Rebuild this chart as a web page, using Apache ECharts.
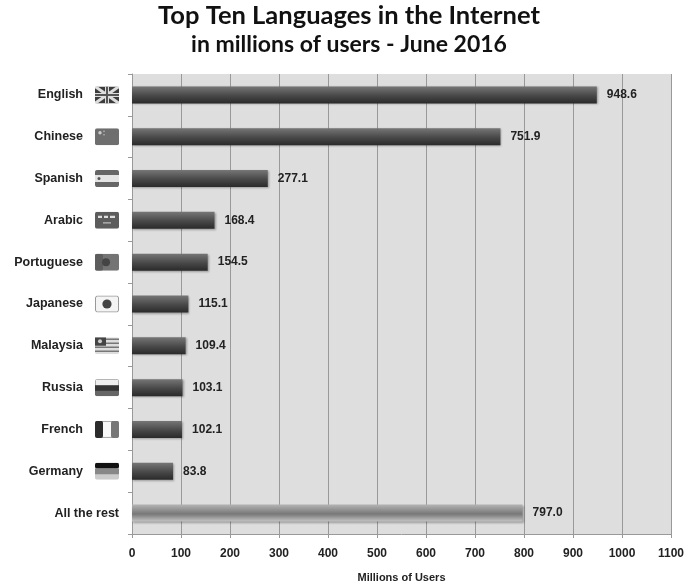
<!DOCTYPE html>
<html><head><meta charset="utf-8">
<style>html,body{margin:0;padding:0;background:#fff}#c{width:685px;height:587px}</style>
<script src="https://cdn.jsdelivr.net/npm/echarts@6/dist/echarts.min.js"></script>
</head><body><div id="c"></div>
<script>
const categories=["English","Chinese","Spanish","Arabic","Portuguese","Japanese","Malaysia","Russia","French","Germany","All the rest"];
const users=[948.6,751.9,277.1,168.4,154.5,115.1,109.4,103.1,102.1,83.8,797.0];
const valueLabels=["948.6","751.9","277.1","168.4","154.5","115.1","109.4","103.1","102.1","83.8","797.0"];
const flagSvgs=[
'<rect width="24" height="17" rx="2" fill="#3c3c3c"/><path d="M0 0L24 17M24 0L0 17" stroke="#ddd" stroke-width="3"/><path d="M12 0V17M0 8.5H24" stroke="#ddd" stroke-width="4"/><path d="M12 0V17M0 8.5H24" stroke="#555" stroke-width="2"/>',
'<rect width="24" height="17" rx="2" fill="#6e6e6e"/><circle cx="5" cy="4.5" r="1.7" fill="#ccc"/><circle cx="9" cy="3" r=".8" fill="#bbb"/><circle cx="9" cy="6.5" r=".8" fill="#bbb"/>',
'<rect width="24" height="17" rx="2" fill="#666"/><rect y="5" width="24" height="7" fill="#e4e4e4"/><circle cx="4" cy="8.5" r="1.5" fill="#555"/>',
'<rect width="24" height="17" rx="2" fill="#5c5c5c"/><path d="M3 5h4M9 5h4M15 5h5" stroke="#ddd" stroke-width="2.4"/><path d="M8 11h8" stroke="#bbb" stroke-width="1.4"/>',
'<rect width="24" height="17" rx="2" fill="#747474"/><rect width="8" height="17" rx="2" fill="#5d5d5d"/><circle cx="11" cy="8.5" r="4" fill="#444"/>',
'<rect x=".5" y=".5" width="23" height="16" rx="2" fill="#f4f4f4" stroke="#999"/><circle cx="12" cy="8.5" r="4.6" fill="#444"/>',
'<rect width="24" height="17" rx="2" fill="#ddd"/><path d="M0 2h24M0 6h24M0 10h24M0 14h24" stroke="#777" stroke-width="1.6"/><rect width="11" height="8.5" fill="#444"/><circle cx="5" cy="4" r="2" fill="#ccc"/>',
'<rect width="24" height="17" rx="2" fill="#666"/><rect x=".5" y=".5" width="23" height="6" fill="#eee"/><rect y="6" width="24" height="5.5" fill="#333"/>',
'<rect x=".5" y=".5" width="23" height="16" rx="2" fill="#fafafa" stroke="#aaa"/><rect width="8" height="17" rx="2" fill="#2c2c2c"/><rect x="16" width="8" height="17" rx="2" fill="#777"/>',
'<rect width="24" height="17" rx="2" fill="#ccc"/><rect width="24" height="5.7" rx="2" fill="#111"/><rect y="5.7" width="24" height="5.7" fill="#888"/>'
];
const toUri=s=>'data:image/svg+xml;utf8,'+encodeURIComponent('<svg xmlns="http://www.w3.org/2000/svg" width="24" height="17" viewBox="0 0 24 17">'+s+'</svg>');
const rich={
 name:{fontFamily:'Liberation Sans',fontWeight:'bold',fontSize:12.5,color:'#222',padding:[0,12,0,0]},
 name2:{fontFamily:'Liberation Sans',fontWeight:'bold',fontSize:12.5,color:'#222'}
};
flagSvgs.forEach((s,i)=>{rich['f'+i]={width:24,height:17,backgroundColor:{image:toUri(s)}};});
const dark={type:'linear',x:0,y:0,x2:0,y2:1,colorStops:[{offset:0,color:'#767676'},{offset:.55,color:'#484848'},{offset:1,color:'#2a2a2a'}]};
const light={type:'linear',x:0,y:0,x2:0,y2:1,colorStops:[{offset:0,color:'#b4b4b4'},{offset:.55,color:'#777'},{offset:1,color:'#c4c4c4'}]};
const chart=echarts.init(document.getElementById('c'),null,{renderer:'canvas'});
chart.setOption({
animation:false,
backgroundColor:'#fff',
title:{text:'{a|Top Ten Languages in the Internet}\n{b|in millions of users - June 2016}',left:344,top:-4,textAlign:'center',
 textStyle:{rich:{
  a:{fontFamily:'Lato',fontWeight:'bold',fontSize:25.5,lineHeight:29,color:'#111'},
  b:{fontFamily:'Lato',fontWeight:'bold',fontSize:23,lineHeight:29,color:'#111'}}}},
grid:{left:132,right:14,top:74,bottom:53,backgroundColor:'#dedede',show:true,borderWidth:0,outerBoundsMode:'none'},
xAxis:{type:'value',min:0,max:1100,interval:100,
 name:'Millions of Users',nameLocation:'middle',nameGap:38,
 nameTextStyle:{fontFamily:'Liberation Sans',fontWeight:'bold',fontSize:11,color:'#222'},
 axisLine:{show:true,lineStyle:{color:'#999',width:1}},axisTick:{show:true,length:4,lineStyle:{color:'#999'}},
 axisLabel:{fontFamily:'Liberation Sans',fontWeight:'bold',fontSize:12,color:'#222',margin:14,formatter:v=>String(v)},
 splitLine:{show:true,lineStyle:{color:'#999',width:1}}},
yAxis:{type:'category',inverse:true,data:categories,
 axisLine:{show:true,lineStyle:{color:'#999',width:1}},
 axisTick:{show:true,length:4,alignWithLabel:false,lineStyle:{color:'#999'}},
 axisLabel:{margin:13,formatter:(v,i)=>i<flagSvgs.length?`{name|${v}}{f${i}|}`:`{name2|${v}}`,rich}},
series:[{type:'bar',barWidth:17,
 data:users.map((v,i)=>({value:v,itemStyle:{color:i<10?dark:light,shadowColor:'rgba(0,0,0,.3)',shadowBlur:2,shadowOffsetX:1,shadowOffsetY:1},
  label:{formatter:valueLabels[i]}})),
 label:{show:true,position:'right',distance:10,fontFamily:'Liberation Sans',fontWeight:'bold',fontSize:12,color:'#222'}}]
});
</script></body></html>
